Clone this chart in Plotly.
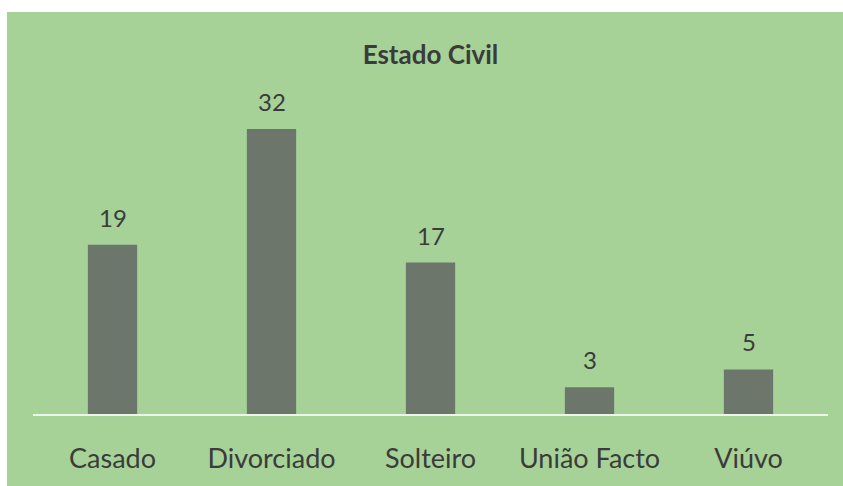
import plotly.graph_objs as go

# Data
categorias = ['Casado', 'Divorciado', 'Solteiro', 'União Facto', 'Viúvo']
valores = [19, 32, 17, 3, 5]

verde = '#a6d297'
cinza = '#6c766b'
texto = '#3b3b3b'
fonte = 'Lato, Open Sans, sans-serif'

fig = go.Figure()
fig.add_trace(go.Bar(x=categorias, y=valores, marker=dict(color=cinza, line=dict(width=0)),
                     width=0.31, hoverinfo='x+y'))

# value labels above bars
for c, v in zip(categorias, valores):
    fig.add_annotation(x=c, y=v, text=str(v), showarrow=False, yanchor='bottom', yshift=11,
                       font=dict(family=fonte, size=24, color=texto))

# green card behind everything, leaving the white strip on top/left
fig.add_shape(type='rect', xref='paper', yref='paper', x0=-0.0327, x1=1.05, y0=-0.3, y1=1.2036,
              fillcolor=verde, line=dict(width=0), layer='below')

fig.update_layout(
    width=843, height=486,
    margin=dict(l=33, r=15, t=80, b=72),
    paper_bgcolor='white', plot_bgcolor='rgba(0,0,0,0)',
    title=dict(text='Estado Civil', x=0.5, xref='paper', y=1 - 55 / 486, yanchor='middle',
               font=dict(family=fonte, size=26, color=texto, weight='bold')),
    showlegend=False,
    bargap=0.69,
    xaxis=dict(showline=True, linecolor='#eef3ec', linewidth=2, showgrid=False,
               ticks='outside', ticklen=20, tickcolor='rgba(0,0,0,0)',
               tickfont=dict(family=fonte, size=27, color=texto)),
    yaxis=dict(range=[0, 37.5], visible=False, showgrid=False, zeroline=False),
)

# drop the default body margin so the figure sits at the page origin
fig.write_html('out.html', config={'displayModeBar': False},
               post_script="document.body.style.margin='0';")
